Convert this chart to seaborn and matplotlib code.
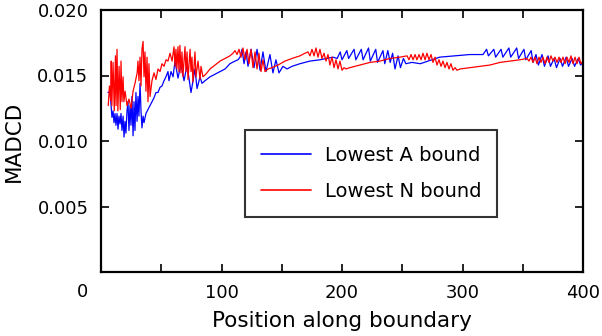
import numpy as np
import pandas as pd
import seaborn as sns
import matplotlib
matplotlib.use("Agg")
import matplotlib.pyplot as plt
from matplotlib.ticker import MultipleLocator

# Lowest A bound (blue)
blue_x = [5.8, 7.5, 9.1, 10.0, 10.8, 11.6, 12.4, 13.3, 14.1, 14.9, 15.8, 16.6, 17.4, 18.3,
          19.1, 19.9, 20.7, 21.6, 22.4, 23.2, 24.1, 24.9, 25.7, 26.6, 27.4, 28.2, 29.0, 29.9,
          30.7, 31.5, 32.4, 33.2, 34.0, 34.9, 35.7, 37.3, 39.0, 40.7, 42.3, 44.0, 45.6, 47.3,
          49.0, 50.6, 52.3, 53.9, 55.6, 56.4, 58.1, 59.8, 61.4, 63.9, 66.4, 68.9, 71.4, 74.7,
          78.0, 79.7, 82.2, 83.8, 86.3, 90.5, 94.6, 98.8, 103.0, 107.0, 111.2, 113.7,
          115.4, 117.0, 118.7, 120.3, 122.0, 124.5, 127.0, 129.5, 132.0, 134.4, 136.9, 140.2,
          142.7, 145.2, 147.7, 151.0, 154.4, 158.5, 165.1, 173.4, 181.7, 192.5,
          196.0, 198.5, 200.0, 204.0, 205.5, 210.0, 211.5, 216.0, 217.5, 222.0, 223.5, 228.0,
          229.5, 234.0, 235.5, 238.0, 240.0, 242.0, 244.0, 246.5, 248.5, 251.0, 253.0,
          258.0, 265.0, 281.0, 306.0, 317.0,
          320.0, 321.5, 326.0, 327.5, 332.0, 333.5, 338.5, 340.0, 345.0, 346.5, 351.0, 352.5,
          357.0, 358.5, 361.0, 363.0, 366.0, 368.0, 371.0, 373.0, 376.0, 378.0, 381.0, 383.0,
          386.0, 388.0, 391.0, 393.0, 396.0, 398.0, 400.0]
blue_y = [0.0137, 0.0138, 0.0118, 0.0123, 0.0114, 0.0121, 0.0112, 0.0121, 0.0109, 0.0119,
          0.0113, 0.0121, 0.0108, 0.0119, 0.0103, 0.0115, 0.0106, 0.0123, 0.0130, 0.0108,
          0.0127, 0.0112, 0.0134, 0.0104, 0.0130, 0.0108, 0.0137, 0.0115, 0.0134, 0.0119,
          0.0144, 0.0123, 0.0110, 0.0119, 0.0114, 0.0121, 0.0124, 0.0127, 0.0130, 0.0133,
          0.0137, 0.0137, 0.0141, 0.0142, 0.0146, 0.0149, 0.0153, 0.0146, 0.0153, 0.0149,
          0.0161, 0.0148, 0.0159, 0.0146, 0.0158, 0.0137, 0.0155, 0.0140, 0.0149, 0.0144,
          0.0146, 0.0149, 0.0151, 0.0153, 0.0155, 0.0159, 0.0161, 0.0162,
          0.0164, 0.0170, 0.0159, 0.0168, 0.0157, 0.0170, 0.0156, 0.0170, 0.0154, 0.0168,
          0.0153, 0.0166, 0.0152, 0.0162, 0.0152, 0.0157, 0.0155, 0.0157, 0.0159, 0.0161,
          0.0162, 0.0164,
          0.0163, 0.0168, 0.0162, 0.0169, 0.0163, 0.0170, 0.0162, 0.0170, 0.0162, 0.0171,
          0.0161, 0.0170, 0.0160, 0.0169, 0.0159, 0.0169, 0.0160, 0.0167, 0.0155, 0.0165,
          0.0156, 0.0163, 0.0159,
          0.0160, 0.0159, 0.0164, 0.0166, 0.0166,
          0.0170, 0.0165, 0.0170, 0.0164, 0.0170, 0.0164, 0.0171, 0.0164, 0.0171, 0.0163,
          0.0170, 0.0162, 0.0169, 0.0160, 0.0166, 0.0158, 0.0166, 0.0157, 0.0165, 0.0157,
          0.0163, 0.0156, 0.0163, 0.0157, 0.0164, 0.0157, 0.0163, 0.0157, 0.0163, 0.0158,
          0.0160]

# Lowest N bound (red)
red_x = [6.0, 7.0, 8.0, 8.5, 9.0, 10.0, 11.0, 12.0, 12.5, 13.3, 14.0, 15.0, 16.0, 16.6,
         17.4, 18.3, 19.0, 20.0, 21.6, 23.2, 25.0, 26.6, 28.2, 30.0, 30.7, 31.5, 32.4, 33.2,
         34.0, 34.9, 35.7, 36.5, 37.3, 38.2, 39.0, 39.8, 40.7, 42.3, 44.0, 45.6, 47.3, 49.0,
         50.6, 52.3, 54.0, 55.6, 57.3, 59.0, 60.6, 61.4, 62.2, 63.0, 63.9, 64.7, 65.5, 66.4,
         67.2, 68.0, 69.7, 70.5, 71.4, 72.2, 73.9, 74.7, 75.5, 76.3, 78.0, 78.8, 80.5, 82.2,
         83.0, 84.6, 87.0, 90.5, 94.6, 98.8, 103.0, 107.0, 109.5, 111.2, 112.9, 114.5, 116.2,
         117.8, 119.5, 121.2, 122.8, 124.5, 126.1, 127.8, 129.5, 131.1, 132.8, 134.4, 136.1,
         138.6, 141.9, 146.9, 152.7, 158.5, 165.1, 169.3, 171.8, 173.4, 175.1, 176.8, 178.4,
         180.1, 181.7, 183.4, 185.1, 186.7, 188.4, 190.0, 191.7, 193.4, 195.0, 196.7, 198.3,
         200.0, 201.7, 203.3, 206.6, 214.9, 223.2, 231.5, 239.8, 248.0, 254.0, 255.6, 257.3,
         259.0, 260.6, 262.2, 263.9, 265.6, 267.2, 268.9, 270.5, 272.2, 273.9, 275.5, 277.2,
         278.8, 280.5, 282.2, 283.8, 285.5, 287.1, 288.8, 290.4, 292.1, 293.8, 295.4, 298.0,
         306.2, 314.5, 322.8, 331.1, 339.4, 347.7, 353.5, 355.2, 356.8, 358.5, 360.2, 361.8,
         363.5, 365.1, 366.8, 368.5, 370.1, 371.8, 373.4, 375.1, 376.8, 378.4, 380.1, 381.7,
         383.4, 385.1, 386.7, 388.4, 390.0, 391.7, 393.4, 395.0, 396.7, 398.3, 400.0]
red_y = [0.0127, 0.0142, 0.0131, 0.0161, 0.0127, 0.0160, 0.0123, 0.0165, 0.0127, 0.0170,
         0.0123, 0.0157, 0.0124, 0.0161, 0.0130, 0.0149, 0.0130, 0.0138, 0.0127, 0.0132,
         0.0125, 0.0138, 0.0144, 0.0152, 0.0161, 0.0146, 0.0164, 0.0142, 0.0170, 0.0176,
         0.0149, 0.0168, 0.0138, 0.0164, 0.0130, 0.0159, 0.0134, 0.0146, 0.0152, 0.0147,
         0.0155, 0.0153, 0.0159, 0.0157, 0.0162, 0.0161, 0.0167, 0.0161, 0.0172, 0.0157,
         0.0170, 0.0155, 0.0172, 0.0153, 0.0173, 0.0152, 0.0168, 0.0149, 0.0172, 0.0153,
         0.0168, 0.0147, 0.0170, 0.0153, 0.0164, 0.0145, 0.0168, 0.0149, 0.0161, 0.0147,
         0.0157, 0.0149, 0.0151, 0.0155, 0.0158, 0.0161, 0.0163, 0.0165, 0.0167, 0.0169,
         0.0166, 0.0170, 0.0164, 0.0171, 0.0162, 0.0170, 0.0159, 0.0170, 0.0156, 0.0168,
         0.0155, 0.0167, 0.0153, 0.0162, 0.0153, 0.0155, 0.0156, 0.0158, 0.0161, 0.0163,
         0.0165, 0.0167, 0.0168, 0.0165, 0.0170, 0.0165, 0.0171, 0.0164, 0.0170, 0.0163,
         0.0167, 0.0161, 0.0166, 0.0158, 0.0164, 0.0156, 0.0162, 0.0155, 0.0161, 0.0154,
         0.0156, 0.0155, 0.0156, 0.0158, 0.0160, 0.0161, 0.0163, 0.0164, 0.0165, 0.0162,
         0.0166, 0.0162, 0.0166, 0.0162, 0.0166, 0.0162, 0.0167, 0.0162, 0.0167, 0.0162,
         0.0166, 0.0160, 0.0164, 0.0158, 0.0162, 0.0157, 0.0161, 0.0156, 0.0160, 0.0155,
         0.0159, 0.0154, 0.0156, 0.0154, 0.0155, 0.0156, 0.0157, 0.0158, 0.0160, 0.0161,
         0.0162, 0.0163, 0.0161, 0.0164, 0.0160, 0.0164, 0.0159, 0.0164, 0.0160, 0.0164,
         0.0159, 0.0164, 0.0160, 0.0165, 0.0161, 0.0164, 0.0160, 0.0164, 0.0160, 0.0164,
         0.0159, 0.0164, 0.0160, 0.0165, 0.0159, 0.0164, 0.0159, 0.0164, 0.0159, 0.0161]

x_ticks = [100, 200, 300, 400]
y_ticks = [0.005, 0.010, 0.015, 0.020]

sns.set_theme(style="white")
plt.rcParams['font.family'] = ['DejaVu Sans']

fig = plt.figure(figsize=(6.02, 3.36), dpi=100)
ax = fig.add_axes([101 / 602, 1 - 272 / 336, 482 / 602, 262 / 336])

blue_df = pd.DataFrame({'pos': blue_x, 'madcd': blue_y})
red_df = pd.DataFrame({'pos': red_x, 'madcd': red_y})
sns.lineplot(data=blue_df, x='pos', y='madcd', color='#0000ff', lw=0.9,
             label='Lowest A bound', ax=ax, estimator=None, sort=False)
sns.lineplot(data=red_df, x='pos', y='madcd', color='#ff0000', lw=0.9,
             label='Lowest N bound', ax=ax, estimator=None, sort=False)

ax.set_xlim(0, 400)
ax.set_ylim(0, 0.020)
ax.set_xticks(x_ticks)
ax.set_xticklabels([str(t) for t in x_ticks])
ax.xaxis.set_minor_locator(MultipleLocator(50))
ax.set_yticks(y_ticks)
ax.set_yticklabels([f"{t:.3f}" for t in y_ticks])

for side in ['left', 'right', 'top', 'bottom']:
    ax.spines[side].set_color('black')
    ax.spines[side].set_linewidth(1.6)
ax.tick_params(which='both', direction='in', length=6, width=1.2, color='black',
               top=True, right=True, bottom=True, left=True, labelsize=13,
               labelcolor='black')
ax.tick_params(axis='x', which='major', pad=9)
ax.tick_params(axis='y', which='major', pad=9)

ax.set_xlabel('Position along boundary', fontsize=15.5, color='black', labelpad=6)
ax.set_ylabel('MADCD', fontsize=15.5, color='black', labelpad=10)
fig.text(82 / 602, 1 - 292 / 336, '0', ha='center', va='center', fontsize=13, color='black')

leg = ax.legend(loc='upper left', bbox_to_anchor=(0.299, 0.542), fontsize=14,
                frameon=True, fancybox=False, borderpad=0.8, labelspacing=0.9,
                handlelength=2.6, handletextpad=0.7, borderaxespad=0, labelcolor='black')
leg.get_frame().set_edgecolor('black')
leg.get_frame().set_linewidth(1.5)
for line in leg.get_lines():
    line.set_linewidth(1.2)

fig.savefig('out.png', dpi=100)
